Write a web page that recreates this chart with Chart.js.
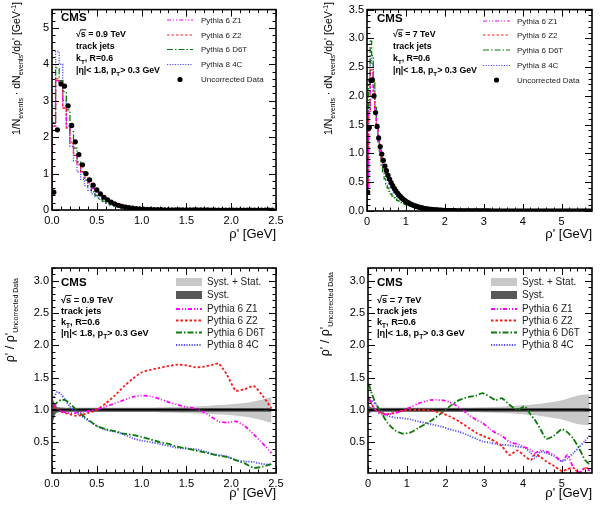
<!DOCTYPE html>
<html><head><meta charset="utf-8">
<script src="https://cdn.jsdelivr.net/npm/chart.js@4/dist/chart.umd.min.js"></script>
<style>
html,body{margin:0;padding:0;background:#fff;}
#wrap{position:relative;width:600px;height:509px;overflow:hidden;}
canvas{position:absolute;}
</style></head><body>
<div id="wrap">
<canvas id="c1" width="300" height="250" style="left:0;top:0"></canvas>
<canvas id="c2" width="300" height="250" style="left:300px;top:0"></canvas>
<canvas id="c3" width="300" height="259" style="left:0;top:250px"></canvas>
<canvas id="c4" width="300" height="259" style="left:300px;top:250px"></canvas>
</div>
<script>
const FONT = '"Liberation Sans", Arial, Helvetica, sans-serif';
const binW = 0.04;

// ---------- Panel 1: sqrt(s)=0.9 TeV, 1/N dN/drho' ----------
const p1Data = [0.49,2.20,3.46,3.40,2.86,2.32,1.87,1.52,1.24,1.00,
0.83,0.68,0.55,0.44,0.35,0.28,0.22,0.17,0.13,0.10,
0.080,0.064,0.050,0.040,0.032,0.026,0.021,0.017,0.014,0.011,
0.009,0.0075,0.006,0.005,0.004,0.0033,0.0027,0.0022,0.0018,0.0015,
0.0012,0.001,0.0008,0.0007,0.0006,0.0005,0.0004,0.00035,0.0003,0.00025,
0.0002,0.00017,0.00014,0.00012,0.0001,0.00008,0.00007,0.00006,0.00005,0.00004,
0.00003,0.00003];
const p1Z1 = [2.3,3.55,3.5,2.85,2.3,1.86,1.5,1.24,1.02,0.85,0.71,0.59,0.49,0.40,0.33,0.27,0.22,0.18,0.145,0.117,0.094,0.075,0.06,0.048,0.038,0.03,0.024,0.019,0.015,0.012,0.0095,0.0075,0.006,0.0047,0.0037,0.003,0.0024,0.0019,0.0015,0.0012];
const p1Z2 = [2.3,3.6,3.5,2.8,2.25,1.82,1.5,1.26,1.06,0.9,0.76,0.64,0.54,0.45,0.375,0.31,0.255,0.21,0.17,0.14,0.115,0.094,0.077,0.063,0.051,0.042,0.034,0.028,0.023,0.019,0.0155,0.0127,0.0104,0.0085,0.007,0.0057,0.0047,0.0038,0.0031,0.0025];
const p1D6T = [2.4,3.9,3.55,3.25,2.75,2.15,1.7,1.33,1.05,0.82,0.64,0.5,0.4,0.31,0.245,0.19,0.15,0.115,0.09,0.07,0.054,0.042,0.032,0.025,0.019,0.015,0.0115,0.009,0.007,0.0055,0.0043,0.0034,0.0027,0.0021,0.0017,0.0013,0.001,0.0008,0.0006,0.0005];
const p14C = [2.85,4.35,4.0,3.0,2.3,1.75,1.35,1.05,0.84,0.67,0.54,0.44,0.36,0.29,0.23,0.18,0.14,0.11,0.085,0.066,0.051,0.039,0.03,0.023,0.018,0.014,0.011,0.0085,0.0066,0.0051,0.004,0.0031,0.0024,0.0019,0.0015,0.0012,0.001,0.0008,0.0006,0.0005];
const p1XTicks = [0,0.5,1,1.5,2,2.5];
const p1YTicks = [0,1,2,3,4,5];

// ---------- Panel 2: sqrt(s)=7 TeV ----------
const p2Data = [0.33,1.45,2.27,2.28,2.00,1.71,1.47,1.27,1.12,0.99,
0.88,0.78,0.70,0.62,0.555,0.495,0.44,0.395,0.35,0.315,
0.28,0.25,0.225,0.20,0.18,0.16,0.145,0.13,0.115,0.103,
0.092,0.083,0.074,0.066,0.059,0.053,0.047,0.042,0.038,0.034,
0.030,0.027,0.024,0.021,0.019,0.017,0.015,0.0135,0.012,0.0107,
0.0095,0.0085,0.0076,0.0068,0.006,0.0054,0.0048,0.0043,0.0038,0.0034,
0.0030,0.0027,0.0024,0.0021,0.0019,0.0017,0.0015,0.0013,0.0012,0.0011,
0.0010,0.0009,0.0008,0.0007,0.00065,0.0006,0.00055,0.0005,0.00045,0.0004,
0.00036,0.00033,0.0003,0.00027,0.00024,0.00022,0.0002,0.00018,0.00016,0.00015,
0.00014,0.00013,0.00012,0.00011,0.0001,0.00009,0.00008,0.00008,0.00007,0.00007,
0.00006,0.00006,0.00005,0.00005,0.00005,0.00004,0.00004,0.00004,0.00003,0.00003,
0.00003,0.00003,0.00002,0.00002,0.00002,0.00002,0.00002,0.00002,0.00001,0.00001,
0.00001,0.00001,0.00001,0.00001,0.00001,0.00001,0.00001,0.00001,0.00001,0.00001,
0.00001,0.00001,0.00001,0.00001,0.00001,0.00001,0.00001,0.00001,0.00001,0.00001,
0.00001,0.00001,0.00001,0.00001];
const p2Z1 = [0.4,1.7,2.4,2.4,2.05,1.72,1.44,1.22,1.05,0.92,0.81,0.72,0.64,0.57,0.51,0.455,0.405,0.36,0.32,0.287,0.256,0.23,0.207,0.186,0.168,0.152,0.138,0.125,0.113,0.102,0.093,0.085,0.077,0.07,0.063,0.057,0.052,0.047,0.043,0.039,0.035,0.031,0.028,0.025,0.022,0.02,0.018,0.016,0.014,0.0125];
const p2Z2 = [0.4,1.72,2.45,2.42,2.07,1.73,1.45,1.23,1.06,0.93,0.82,0.73,0.65,0.58,0.52,0.462,0.41,0.365,0.325,0.29,0.26,0.233,0.208,0.187,0.168,0.15,0.135,0.121,0.109,0.098,0.088,0.079,0.071,0.064,0.057,0.051,0.046,0.041,0.037,0.033,0.029,0.026,0.023,0.02,0.018,0.016,0.014,0.0125,0.011,0.0098];
const p2D6T = [0.45,2.2,2.95,2.7,2.25,1.8,1.45,1.18,0.97,0.80,0.67,0.56,0.47,0.40,0.34,0.295,0.26,0.23,0.205,0.185,0.17,0.155,0.14,0.128,0.117,0.107,0.097,0.088,0.08,0.072,0.065,0.058,0.052,0.047,0.042,0.037,0.033,0.030,0.027,0.024,0.022,0.020,0.018,0.016,0.015,0.013,0.012,0.011,0.0098,0.0088];
const p24C = [0.37,1.75,2.65,2.55,2.15,1.78,1.5,1.27,1.08,0.93,0.8,0.69,0.6,0.52,0.46,0.405,0.36,0.32,0.285,0.255,0.228,0.205,0.185,0.166,0.15,0.135,0.121,0.108,0.096,0.086,0.077,0.069,0.061,0.054,0.048,0.043,0.038,0.034,0.030,0.027,0.024,0.021,0.019,0.017,0.015,0.0133,0.0118,0.0105,0.0093,0.0082];
const p2XTicks = [0,1,2,3,4,5];
const p2YTicks = [0,0.5,1,1.5,2,2.5,3,3.5];

// ---------- Panel 3: ratio, 0.9 TeV ----------
const r1X = [0.02,0.06,0.10,0.15,0.20,0.25,0.30,0.40,0.50,0.60,0.70,0.80,0.90,1.00,1.10,1.20,1.30,1.40,1.50,1.60,1.70,1.80,1.86,1.95,2.05,2.15,2.25,2.35,2.45];
const r1Z1 = [1.10,1.02,0.98,0.96,0.95,0.95,0.96,0.98,1.01,1.05,1.10,1.15,1.20,1.22,1.21,1.17,1.12,1.08,1.04,1.02,0.96,0.87,0.82,0.80,0.82,0.75,0.62,0.48,0.33];
const r1Z2 = [1.05,1.00,0.97,0.95,0.93,0.91,0.91,0.95,1.00,1.10,1.22,1.36,1.48,1.58,1.62,1.65,1.68,1.70,1.69,1.66,1.67,1.70,1.72,1.55,1.30,1.32,1.37,1.22,1.02];
const r1D6T = [1.05,1.12,1.15,1.15,1.10,1.03,0.96,0.85,0.75,0.70,0.67,0.63,0.61,0.58,0.54,0.50,0.47,0.43,0.40,0.37,0.34,0.31,0.29,0.27,0.22,0.17,0.10,0.12,0.16];
const r14C = [1.20,1.28,1.24,1.15,1.05,0.98,0.93,0.84,0.75,0.69,0.66,0.62,0.56,0.52,0.50,0.47,0.44,0.41,0.40,0.39,0.36,0.31,0.30,0.28,0.22,0.20,0.19,0.16,0.15];
const b1X = [0.01,0.02,0.03,0.05,0.08,0.15,0.5,1.0,1.25,1.5,1.75,2.0,2.25,2.45];
const b1TotUp = [1.17,1.15,1.10,1.05,1.04,1.035,1.035,1.035,1.04,1.05,1.065,1.085,1.13,1.20];
const b1TotLo = [0.82,0.84,0.90,0.95,0.96,0.965,0.965,0.965,0.96,0.95,0.935,0.915,0.87,0.80];
const b1SysUp = [1.15,1.13,1.08,1.045,1.035,1.03,1.03,1.03,1.03,1.03,1.03,1.03,1.03,1.03];
const b1SysLo = [0.83,0.86,0.92,0.955,0.965,0.97,0.97,0.97,0.97,0.97,0.97,0.97,0.97,0.97];
const p3XTicks = [0,0.5,1,1.5,2,2.5];
const p3YTicks = [0.5,1,1.5,2,2.5,3];

// ---------- Panel 4: ratio, 7 TeV ----------
const r2X = [0.02,0.1,0.2,0.35,0.5,0.7,0.9,1.1,1.3,1.6,1.9,2.1,2.35,2.6,2.8,2.95,3.15,3.3,3.45,3.65,3.85,4.05,4.2,4.3,4.45,4.6,4.8,5.0,5.15,5.3,5.45,5.6,5.72];
const r2Z1 = [1.18,1.08,0.98,0.93,0.93,0.95,0.99,1.04,1.10,1.15,1.15,1.12,1.04,0.92,0.84,0.80,0.70,0.64,0.60,0.50,0.47,0.42,0.38,0.33,0.37,0.35,0.30,0.20,0.30,0.10,0.03,0.10,0.05];
const r2Z2 = [1.20,1.08,1.00,0.95,0.93,0.96,0.99,1.00,1.00,0.99,0.95,0.90,0.82,0.72,0.64,0.60,0.55,0.50,0.44,0.30,0.37,0.28,0.22,0.30,0.27,0.20,0.13,0.05,0.08,0.10,0.02,0.10,0.08];
const r2D6T = [1.40,1.25,1.10,0.95,0.80,0.68,0.63,0.65,0.72,0.82,0.95,1.05,1.15,1.20,1.22,1.26,1.20,1.15,1.18,1.08,1.00,1.05,0.92,0.85,0.70,0.55,0.60,0.70,0.65,0.55,0.40,0.22,0.15];
const r24C = [1.10,1.15,1.08,0.97,0.91,0.88,0.87,0.85,0.82,0.78,0.74,0.70,0.66,0.60,0.55,0.51,0.49,0.47,0.46,0.45,0.43,0.41,0.33,0.25,0.35,0.33,0.28,0.20,0.25,0.33,0.42,0.52,0.60];
const b2X = [0.02,0.04,0.08,0.2,1.0,2.0,3.0,3.5,4.0,4.5,5.0,5.4,5.72];
const b2TotUp = [1.12,1.06,1.04,1.035,1.035,1.035,1.04,1.05,1.07,1.10,1.15,1.22,1.24];
const b2TotLo = [0.88,0.94,0.96,0.965,0.965,0.965,0.96,0.95,0.93,0.90,0.85,0.78,0.76];
const b2SysUp = [1.10,1.05,1.035,1.03,1.03,1.03,1.03,1.03,1.03,1.03,1.03,1.03,1.03];
const b2SysLo = [0.90,0.95,0.965,0.97,0.97,0.97,0.97,0.97,0.97,0.97,0.97,0.97,0.97];
const p4XTicks = [0,1,2,3,4,5];
const p4YTicks = [0.5,1,1.5,2,2.5,3];

// ---------- styles ----------
const STY = {
  z1:  {color:'#ff00ff', dash:[4,2,1,2,1,2], label:'Pythia 6 Z1'},
  z2:  {color:'#ff1a1a', dash:[2.5,2], label:'Pythia 6 Z2'},
  d6t: {color:'#0a7a0a', dash:[6,2,1.5,2], label:'Pythia 6 D6T'},
  c4:  {color:'#5050ff', dash:[1.2,1.4], label:'Pythia 8 4C'}
};

// ---------- helpers ----------
function histPts(vals){
  const pts=[{x:0,y:0}];
  vals.forEach((v,i)=>pts.push({x:+(i*binW).toFixed(4),y:v}));
  pts.push({x:+(vals.length*binW).toFixed(4),y:vals[vals.length-1]});
  return pts;
}
function markerPts(vals){ return vals.map((v,i)=>({x:+((i+0.5)*binW).toFixed(4),y:v})); }
function xyPts(xs,ys){ return xs.map((x,i)=>({x:x,y:ys[i]})); }
function histDS(vals,key,w){ const s=STY[key]; return {data:histPts(vals),borderColor:s.color,borderDash:s.dash,borderWidth:w,stepped:true,pointRadius:0,fill:false}; }
function curveDS(xs,ys,key,w){ const s=STY[key]; return {data:xyPts(xs,ys),borderColor:s.color,borderDash:s.dash,borderWidth:w,tension:0.2,pointRadius:0,fill:false}; }
function dataDS(vals){ return {data:markerPts(vals),showLine:false,pointRadius:2.6,pointBackgroundColor:'#000',pointBorderWidth:0,pointStyle:'circle'}; }
function bandDS(xs,up,lo,color){
  return [
    {data:xyPts(xs,up),borderWidth:0,pointRadius:0,fill:false,borderColor:'rgba(0,0,0,0)',tension:0.3},
    {data:xyPts(xs,lo),borderWidth:0,pointRadius:0,fill:'-1',backgroundColor:color,borderColor:'rgba(0,0,0,0)',tension:0.3}
  ];
}
function unityDS(xmax){ return {data:[{x:0,y:1},{x:xmax,y:1}],borderColor:'#000',borderWidth:1.6,pointRadius:0,fill:false}; }
function minorList(min,max,step){ const o=[]; const n=Math.round((max-min)/step); for(let i=0;i<=n;i++) o.push(min+i*step); return o; }

function scaleCfg(min,max,ticks,fmt,isX,size){
  return {
    type:'linear',min:min,max:max,
    grid:{display:false,drawTicks:false}, border:{display:false},
    ticks:{autoSkip:false,maxRotation:0,minRotation:0,padding:isX?4:3,color:'#000',font:{family:FONT,size:11},callback:(v)=>fmt(v)},
    afterBuildTicks:(s)=>{ s.ticks = ticks.map(v=>({value:v})); },
    afterFit:(s)=>{ if(isX) s.height=size; else s.width=size; }
  };
}
const f1 = v=>Number(v).toFixed(1);
const f0 = v=>String(Math.round(v));

function segInfo(s0,size){
  const s=typeof s0==='string'?{t:s0}:s0;
  const sz=s.sz?s.sz:((s.sub||s.sup)?size*0.7:size);
  const dy=s.sub?size*0.32:(s.sup?-size*0.42:0);
  return {s:s,sz:sz,dy:dy};
}
function segW(ctx,segs,size,bold){
  let w=0;
  for(const s0 of segs){ const g=segInfo(s0,size); ctx.font=(bold?'bold ':'')+g.sz+'px '+FONT; w+=ctx.measureText(g.s.t).width; }
  return w;
}
function drawSegs(ctx,x,y,segs,size,bold,color){
  let cx=x;
  for(const s0 of segs){
    const g=segInfo(s0,size), s=g.s;
    ctx.font=(bold?'bold ':'')+g.sz+'px '+FONT; ctx.fillStyle=color;
    ctx.fillText(s.t,cx,y+g.dy);
    const w=ctx.measureText(s.t).width;
    if(s.over){ ctx.strokeStyle=color; ctx.lineWidth=0.9; ctx.setLineDash([]); ctx.beginPath(); ctx.moveTo(cx-0.5,y-size*0.82); ctx.lineTo(cx+w+0.5,y-size*0.82); ctx.stroke(); }
    cx+=w;
  }
}
function ln(ctx,x1,y1,x2,y2){ ctx.beginPath(); ctx.moveTo(x1,y1); ctx.lineTo(x2,y2); ctx.stroke(); }

const specs = {};
const rootPlugin = {
  id:'rootframe',
  afterDraw(chart){
    const sp = specs[chart.canvas.id]; if(!sp) return;
    const ctx=chart.ctx, a=chart.chartArea, xs=chart.scales.x, ys=chart.scales.y;
    ctx.save();
    ctx.setLineDash([]);
    ctx.strokeStyle='#000';
    ctx.lineWidth=1;
    const majL=7, minL=3.5;
    const xmaj=sp.xTicks, ymaj=sp.yTicks;
    minorList(xs.min,xs.max,sp.xMinor).forEach(v=>{ if(v<xs.min-1e-9||v>xs.max+1e-9) return; const p=Math.round(xs.getPixelForValue(v))+0.5; const isMaj=xmaj.some(m=>Math.abs(m-v)<1e-6); const L=isMaj?majL:minL; ln(ctx,p,a.bottom,p,a.bottom-L); ln(ctx,p,a.top,p,a.top+L); });
    minorList(0,ys.max,sp.yMinor).forEach(v=>{ if(v<ys.min-1e-9||v>ys.max+1e-9) return; const p=Math.round(ys.getPixelForValue(v))+0.5; const isMaj=ymaj.some(m=>Math.abs(m-v)<1e-6); const L=isMaj?majL:minL; ln(ctx,a.left,p,a.left+L,p); ln(ctx,a.right,p,a.right-L,p); });
    ctx.lineWidth=1.6;
    ctx.strokeRect(a.left,a.top,a.right-a.left,a.bottom-a.top);
    ctx.textBaseline='alphabetic'; ctx.textAlign='left';
    drawSegs(ctx,sp.cms[0],sp.cms[1],['CMS'],11.5,true,'#000');
    sp.lines.forEach((l,i)=>drawSegs(ctx,sp.tx,sp.ty[i],l,sp.tsize,true,'#000'));
    ctx.textBaseline='middle';
    sp.legend.forEach((e,i)=>{
      const y=sp.lg.y[i];
      if(e.type==='line'){ const s=STY[e.key]; ctx.strokeStyle=s.color; ctx.lineWidth=sp.lg.lw; ctx.setLineDash(s.dash); ln(ctx,sp.lg.x1,y,sp.lg.x2,y); ctx.setLineDash([]); }
      else if(e.type==='dot'){ ctx.fillStyle='#000'; ctx.beginPath(); ctx.arc((sp.lg.x1+sp.lg.x2)/2,y,2.6,0,Math.PI*2); ctx.fill(); }
      else if(e.type==='box'){ ctx.fillStyle=e.color; ctx.fillRect(sp.lg.x1,y-4,sp.lg.x2-sp.lg.x1,8); }
      ctx.font=sp.lg.size+'px '+FONT; ctx.fillStyle='#222';
      ctx.fillText(e.label,sp.lg.tx,y+0.5);
    });
    ctx.textBaseline='alphabetic';
    const xt=["ρ' [GeV]"];
    const xw=segW(ctx,xt,13,false);
    drawSegs(ctx,a.right-xw,sp.xTitleY,xt,13,false,'#000');
    const yw=segW(ctx,sp.yTitle,sp.ySize,false);
    ctx.translate(sp.yTitleX,sp.yTitleTop);
    ctx.rotate(-Math.PI/2);
    drawSegs(ctx,-yw,0,sp.yTitle,sp.ySize,false,'#000');
    ctx.restore();
  }
};

function makeChart(id,datasets,xmin,xmax,ymin,ymax,xT,yT,xf,yf,pad,yW,xH){
  new Chart(document.getElementById(id),{
    type:'line',
    data:{datasets:datasets},
    options:{
      responsive:false,animation:false,
      layout:{padding:pad},
      plugins:{legend:{display:false},tooltip:{enabled:false}},
      scales:{x:scaleCfg(xmin,xmax,xT,xf,true,xH), y:scaleCfg(ymin,ymax,yT,yf,false,yW)}
    },
    plugins:[rootPlugin]
  });
}

const topYTitle = ['1/N',{t:'events',sub:true,sz:7},' · dN',{t:'events',sub:true,sz:7},"/dρ' [GeV",{t:'-1',sup:true,sz:7},']'];
const botYTitle = ["ρ' / ρ'",{t:'Uncorrected Data',sub:true,sz:7}];
const topLegend = [{type:'line',key:'z1',label:'Pythia 6 Z1'},{type:'line',key:'z2',label:'Pythia 6 Z2'},{type:'line',key:'d6t',label:'Pythia 6 D6T'},{type:'line',key:'c4',label:'Pythia 8 4C'},{type:'dot',label:'Uncorrected Data'}];
const botLegend = [{type:'box',color:'#c8c8c8',label:'Syst. + Stat.'},{type:'box',color:'#585858',label:'Syst.'},{type:'line',key:'z1',label:'Pythia 6 Z1'},{type:'line',key:'z2',label:'Pythia 6 Z2'},{type:'line',key:'d6t',label:'Pythia 6 D6T'},{type:'line',key:'c4',label:'Pythia 8 4C'}];
const kLine = ['k',{t:'T',sub:true},', R=0.6'];
const etaLine = ['|η|< 1.8, p',{t:'T',sub:true},'> 0.3 GeV'];

specs.c1 = {xTicks:p1XTicks,yTicks:p1YTicks,xMinor:0.1,yMinor:0.2,cms:[61,21],tx:76,ty:[37,49,61,73],tsize:8.8,
  lines:[['√',{t:'s',over:true},' = 0.9 TeV'],['track jets'],kLine,etaLine],
  legend:topLegend,lg:{x1:167,x2:193,tx:201,y:[20,35,49.5,64.5,79.5],size:8,lw:1.2},
  xTitleY:238,yTitle:topYTitle,ySize:10.5,yTitleX:20,yTitleTop:2};
specs.c2 = {xTicks:p2XTicks,yTicks:p2YTicks,xMinor:0.2,yMinor:0.1,cms:[77,22],tx:93,ty:[37,49,61,73],tsize:8.8,
  lines:[['√',{t:'s',over:true},' = 7 TeV'],['track jets'],kLine,etaLine],
  legend:topLegend,lg:{x1:183,x2:210,tx:217,y:[21,35,50,65.5,80],size:8,lw:1.2},
  xTitleY:238,yTitle:topYTitle,ySize:10.5,yTitleX:32,yTitleTop:2};
specs.c3 = {xTicks:p3XTicks,yTicks:p3YTicks,xMinor:0.1,yMinor:0.1,cms:[61,36],tx:61,ty:[53,64,75,86],tsize:9.2,
  lines:[['√',{t:'s',over:true},' = 0.9 TeV'],['track jets'],kLine,etaLine],
  legend:botLegend,lg:{x1:176,x2:202,tx:207,y:[32,45,59,70.5,82.5,95],size:10,lw:1.8},
  xTitleY:247,yTitle:botYTitle,ySize:12.5,yTitleX:14,yTitleTop:28};
specs.c4 = {xTicks:p4XTicks,yTicks:p4YTicks,xMinor:0.2,yMinor:0.1,cms:[77,36],tx:77,ty:[53,64,75,86],tsize:9.2,
  lines:[['√',{t:'s',over:true},' = 7 TeV'],['track jets'],kLine,etaLine],
  legend:botLegend,lg:{x1:191,x2:217,tx:222,y:[32,45,59,70.5,82.5,95],size:10,lw:1.8},
  xTitleY:247,yTitle:botYTitle,ySize:12.5,yTitleX:29,yTitleTop:22};

makeChart('c1',[dataDS(p1Data),histDS(p1Z1,'z1',1.3),histDS(p1Z2,'z2',1.3),histDS(p1D6T,'d6t',1.3),histDS(p14C,'c4',1.3)],
  0,2.5,0,5.5,p1XTicks,p1YTicks,f1,f0,{left:0,top:6,right:24,bottom:0},52,40);
makeChart('c2',[dataDS(p2Data),histDS(p2Z1,'z1',1.3),histDS(p2Z2,'z2',1.3),histDS(p2D6T,'d6t',1.3),histDS(p24C,'c4',1.3)],
  0,5.78,0,3.5,p2XTicks,p2YTicks,f0,f1,{left:0,top:7,right:8,bottom:0},67,39);
makeChart('c3',[curveDS(r1X,r1Z1,'z1',1.8),curveDS(r1X,r1Z2,'z2',1.8),curveDS(r1X,r1D6T,'d6t',1.8),curveDS(r1X,r14C,'c4',1.8),unityDS(2.5)]
  .concat(bandDS(b1X,b1SysUp,b1SysLo,'#585858')).concat(bandDS(b1X,b1TotUp,b1TotLo,'#c8c8c8')),
  0,2.5,0.02,3.2,p3XTicks,p3YTicks,f1,f1,{left:0,top:18,right:24,bottom:0},52,36);
makeChart('c4',[curveDS(r2X,r2Z1,'z1',1.8),curveDS(r2X,r2Z2,'z2',1.8),curveDS(r2X,r2D6T,'d6t',1.8),curveDS(r2X,r24C,'c4',1.8),unityDS(5.78)]
  .concat(bandDS(b2X,b2SysUp,b2SysLo,'#585858')).concat(bandDS(b2X,b2TotUp,b2TotLo,'#c8c8c8')),
  0,5.78,0.02,3.2,p4XTicks,p4YTicks,f0,f1,{left:0,top:18,right:8,bottom:0},68,36);
</script>
</body></html>
